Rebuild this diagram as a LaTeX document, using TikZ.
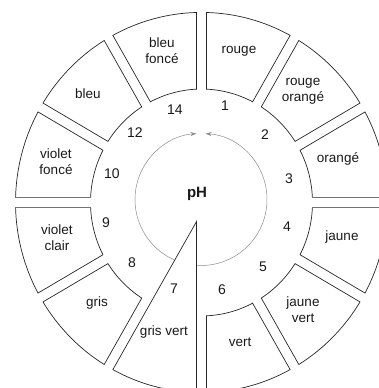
\documentclass[tikz,border=0pt]{standalone}
\usepackage{fontspec}
\setmainfont{Liberation Sans}
\usetikzlibrary{arrows.meta}
\tikzset{
  wedge/.style={draw=black!85, line width=0.7pt, line join=miter},
  lbl/.style={font=\fontsize{13.5}{16}\selectfont, align=center, inner sep=0pt, text=black!90},
  num/.style={font=\fontsize{14}{16}\selectfont, inner sep=0pt, text=black!90},
  ring/.style={draw=black!45, line width=0.5pt},
}
\begin{document}
\begin{tikzpicture}[x=1pt,y=1pt]
\useasboundingbox (0,0) rectangle (379,388);
\clip (0,0) rectangle (379,388);
% inner circle with arrows
\begin{scope}[shift={(201,188.5)}]
  \draw[ring,-{Stealth[length=6pt,width=4pt]}] (246:66) coordinate (la) arc[start angle=246, end angle=94, radius=66] coordinate (lb);
  \draw[ring,-{Stealth[length=6pt,width=4pt]}] (-94:66) coordinate (ra) arc[start angle=-94, end angle=86, radius=66] coordinate (rb);
\end{scope}
% ring wedges
\begin{scope}[shift={(201.5,185.5)}, yscale=1.022]
  \foreach \a in {-150,-90,-60,-30,0,30,60,90,120,150,180}{
    \draw[wedge] ({\a+2.58}:111) -- ({\a+1.54}:186)
      arc[start angle={\a+1.54}, end angle={\a+30-1.54}, radius=186]
      -- ({\a+30-2.58}:111)
      arc[start angle={\a+30-2.58}, end angle={\a+2.58}, radius=111] -- cycle;
  }
  \draw[wedge, fill=white] (255:19.32) coordinate (apex) -- ({-120+1.54}:186)
    arc[start angle={-120+1.54}, end angle={-90-1.54}, radius=186] -- cycle;
\end{scope}
% wedge labels
\node[lbl] (bf) at (162,337) {bleu\\fonc\'e};
\node[lbl] (ro) at (239,337) {rouge};
\node[lbl] (rog) at (303,297) {rouge\\orang\'e};
\node[lbl] (og) at (338,229) {orang\'e};
\node[lbl] (ja) at (342,151) {jaune};
\node[lbl] (jv) at (303,78) {jaune\\vert};
\node[lbl] (ve) at (240,46) {vert};
\node[lbl] (gv) at (164,56) {gris vert};
\node[lbl] (gr) at (97,85) {gris};
\node[lbl] (vc) at (57,150) {violet\\clair};
\node[lbl] (vf) at (56,226) {violet\\fonc\'e};
\node[lbl] (bl) at (88,294) {bleu};
% numbers
\node[num] (n1) at (225,282) {1};
\node[num] (n2) at (265,253) {2};
\node[num] (n3) at (289,209) {3};
\node[num] (n4) at (287,161) {4};
\node[num] (n5) at (263,121) {5};
\node[num] (n6) at (222,98) {6};
\node[num] (n7) at (174,99) {7};
\node[num] (n8) at (132,125) {8};
\node[num] (n9) at (106,165) {9};
\node[num] (n10) at (112,214) {10};
\node[num] (n12) at (135,255) {12};
\node[num] (n14) at (175,278) {14};
% pH
\node[num, anchor=base, font=\fontsize{15}{17}\selectfont\bfseries] (ph) at (197,190) {pH};
\end{tikzpicture}
\end{document}
